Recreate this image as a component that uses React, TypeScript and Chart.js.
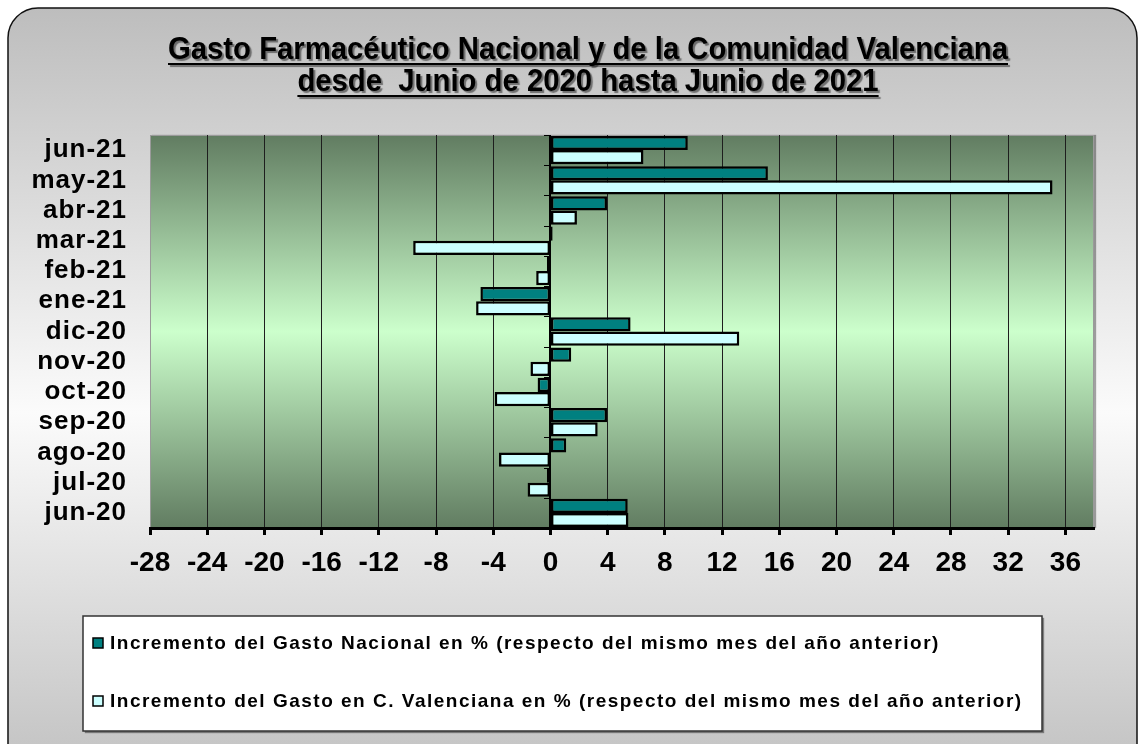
import React, { useEffect, useRef } from 'react';
import { Chart, registerables } from 'chart.js';

Chart.register(...registerables);

const categories = ['jun-21', 'may-21', 'abr-21', 'mar-21', 'feb-21', 'ene-21', 'dic-20', 'nov-20', 'oct-20', 'sep-20', 'ago-20', 'jul-20', 'jun-20'];
const nacional = [9.6, 15.2, 3.95, 0.15, -0.25, -4.9, 5.6, 1.45, -0.9, 3.95, 1.1, -0.25, 5.4];
const valenciana = [6.5, 35.1, 1.85, -9.6, -1.0, -5.2, 13.2, -1.4, -3.9, 3.3, -3.6, -1.6, 5.45];
const xTicks = [-28, -24, -20, -16, -12, -8, -4, 0, 4, 8, 12, 16, 20, 24, 28, 32, 36];
const xMin = -28;
const xMax = 38;
const titleLines = ['Gasto Farmacéutico Nacional y de la Comunidad Valenciana', 'desde  Junio de 2020 hasta Junio de 2021'];
const seriesNames = [
  'Incremento del Gasto Nacional en % (respecto del mismo mes del año anterior)',
  'Incremento del Gasto en C. Valenciana en % (respecto del mismo mes del año anterior)',
];
const seriesColors = ['#008080', '#CCFFFF'];

const FONT = '"Liberation Sans", Arial, sans-serif';

const decor = {
  id: 'decor',
  beforeDraw(chart: any) {
    const ctx = chart.ctx as CanvasRenderingContext2D;
    const W = chart.width;
    const H = chart.height;
    ctx.save();
    ctx.fillStyle = '#ffffff';
    ctx.fillRect(0, 0, W, H);
    const fx = 8, fy = 8, fw = 1129, fh = 770, r = 30;
    const g = ctx.createLinearGradient(0, fy, 0, H);
    g.addColorStop(0, '#bdbdbd');
    g.addColorStop(0.55, '#fbfbfb');
    g.addColorStop(1, '#c6c6c6');
    ctx.beginPath();
    ctx.roundRect(fx, fy, fw, fh, r);
    ctx.fillStyle = g;
    ctx.fill();
    ctx.lineWidth = 1.5;
    ctx.strokeStyle = '#111';
    ctx.stroke();

    const a = chart.chartArea;
    const pg = ctx.createLinearGradient(0, a.top, 0, a.bottom);
    pg.addColorStop(0, '#617c61');
    pg.addColorStop(0.5, '#ccffcc');
    pg.addColorStop(1, '#617c61');
    ctx.shadowColor = 'rgba(0,0,0,0.35)';
    ctx.shadowOffsetX = 2;
    ctx.shadowOffsetY = 0;
    ctx.shadowBlur = 1;
    ctx.fillStyle = pg;
    ctx.fillRect(a.left, a.top, a.right - a.left, a.bottom - a.top);
    ctx.shadowColor = 'transparent';
    ctx.lineWidth = 1;
    ctx.strokeStyle = '#9a9a9a';
    ctx.strokeRect(a.left + 0.5, a.top + 0.5, a.right - a.left - 1, a.bottom - a.top - 1);
    ctx.restore();

    const ys = chart.scales.y;
    if (ys && !ys._lsPatched) {
      const orig = ys.drawLabels.bind(ys);
      ys.drawLabels = (area: any) => {
        ctx.save();
        (ctx as any).letterSpacing = '1px';
        orig(area);
        ctx.restore();
      };
      ys._lsPatched = true;
    }
  },
  beforeDatasetsDraw(chart: any) {
    const ctx = chart.ctx as CanvasRenderingContext2D;
    const a = chart.chartArea;
    const xs = chart.scales.x;
    const ys = chart.scales.y;
    const x0 = Math.round(xs.getPixelForValue(0));
    ctx.save();
    ctx.strokeStyle = '#000';
    ctx.lineWidth = 2;
    ctx.beginPath();
    ctx.moveTo(x0, a.top);
    ctx.lineTo(x0, a.bottom);
    ctx.stroke();
    ctx.lineWidth = 1;
    const n = categories.length;
    const step = (a.bottom - a.top) / n;
    for (let i = 0; i < n; i++) {
      const yb = ys.getPixelForValue(i) - step / 2;
      ctx.beginPath();
      ctx.moveTo(x0 - 6, Math.round(yb) + 0.5);
      ctx.lineTo(x0, Math.round(yb) + 0.5);
      ctx.stroke();
    }
    ctx.restore();
  },
  afterDraw(chart: any) {
    const ctx = chart.ctx as CanvasRenderingContext2D;
    ctx.save();
    ctx.font = `bold 31px ${FONT}`;
    ctx.textAlign = 'left';
    ctx.textBaseline = 'alphabetic';
    const cx = 588;
    const baselines = [59, 91];
    const sx = 840 / ctx.measureText(titleLines[0]).width;
    titleLines.forEach((t, i) => {
      const w = ctx.measureText(t).width;
      const y = baselines[i];
      ctx.save();
      ctx.translate(cx, 0);
      ctx.scale(sx, 1);
      const x = -w / 2;
      ctx.shadowColor = 'rgba(0,0,0,0.45)';
      ctx.shadowOffsetX = 2;
      ctx.shadowOffsetY = 2;
      ctx.shadowBlur = 1;
      ctx.fillStyle = '#000';
      ctx.fillText(t, x, y);
      ctx.fillRect(x, y + 4, w, 2);
      ctx.restore();
    });
    ctx.shadowColor = 'transparent';

    const lx = 83, ly = 616, lw = 959, lh = 115;
    ctx.shadowColor = 'rgba(0,0,0,0.4)';
    ctx.shadowOffsetX = 2;
    ctx.shadowOffsetY = 2;
    ctx.shadowBlur = 1;
    ctx.fillStyle = '#ffffff';
    ctx.fillRect(lx, ly, lw, lh);
    ctx.shadowColor = 'transparent';
    ctx.lineWidth = 1.5;
    ctx.strokeStyle = '#333';
    ctx.strokeRect(lx, ly, lw, lh);

    ctx.font = `bold 19px ${FONT}`;
    (ctx as any).letterSpacing = '1.5px';
    ctx.textBaseline = 'middle';
    const rows = [643, 701];
    chart.data.datasets.forEach((ds: any, i: number) => {
      const y = rows[i];
      ctx.fillStyle = ds.backgroundColor;
      ctx.fillRect(93, y - 5, 10, 10);
      ctx.lineWidth = 1.5;
      ctx.strokeStyle = '#000';
      ctx.strokeRect(93, y - 5, 10, 10);
      ctx.fillStyle = '#000';
      ctx.fillText(ds.label, 110, y + 1);
    });
    ctx.restore();
  },
};

export default function App() {
  const ref = useRef<HTMLCanvasElement | null>(null);
  useEffect(() => {
    if (!ref.current) return;
    const chart = new Chart(ref.current, {
      type: 'bar',
      data: {
        labels: categories,
        datasets: [
          {
            label: seriesNames[0],
            data: nacional,
            backgroundColor: seriesColors[0],
            borderColor: '#000',
            borderWidth: 2.5,
            borderSkipped: false,
            categoryPercentage: 0.94,
            barPercentage: 1.0,
          },
          {
            label: seriesNames[1],
            data: valenciana,
            backgroundColor: seriesColors[1],
            borderColor: '#000',
            borderWidth: 2.5,
            borderSkipped: false,
            categoryPercentage: 0.94,
            barPercentage: 1.0,
          },
        ],
      },
      options: {
        indexAxis: 'y',
        responsive: false,
        maintainAspectRatio: false,
        animation: false,
        devicePixelRatio: 1,
        layout: { padding: { left: 20, right: 47, top: 135, bottom: 156 } },
        plugins: {
          legend: { display: false },
          title: { display: false },
          tooltip: { enabled: false },
        },
        scales: {
          x: {
            type: 'linear',
            min: xMin,
            max: xMax,
            afterBuildTicks: (s: any) => {
              s.ticks = xTicks.map((v) => ({ value: v }));
            },
            afterFit: (s: any) => {
              s.height = 60;
            },
            grid: {
              color: (c: any) => (c.tick && c.tick.value === xMin ? 'rgba(0,0,0,0)' : '#1e1e1e'),
              lineWidth: 1,
              tickColor: '#000',
              tickWidth: 3,
              tickLength: 7,
              drawTicks: true,
            },
            border: { display: true, color: '#000', width: 3 },
            ticks: {
              color: '#000',
              font: { family: FONT, size: 28, weight: 'bold' },
              padding: 11,
              maxRotation: 0,
              autoSkip: false,
            },
          },
          y: {
            type: 'category',
            afterFit: (s: any) => {
              s.width = 130;
            },
            grid: { display: false, drawTicks: false },
            border: { display: false },
            ticks: {
              color: '#000',
              font: { family: FONT, size: 26, weight: 'bold' },
              padding: 23,
              autoSkip: false,
            },
          },
        },
      },
      plugins: [decor],
    });
    return () => chart.destroy();
  }, []);
  return (
    <div style={{ position: 'absolute', left: 0, top: 0, width: 1141, height: 744, overflow: 'hidden' }}>
      <canvas ref={ref} width={1141} height={744} style={{ display: 'block', width: 1141, height: 744 }} />
    </div>
  );
}
